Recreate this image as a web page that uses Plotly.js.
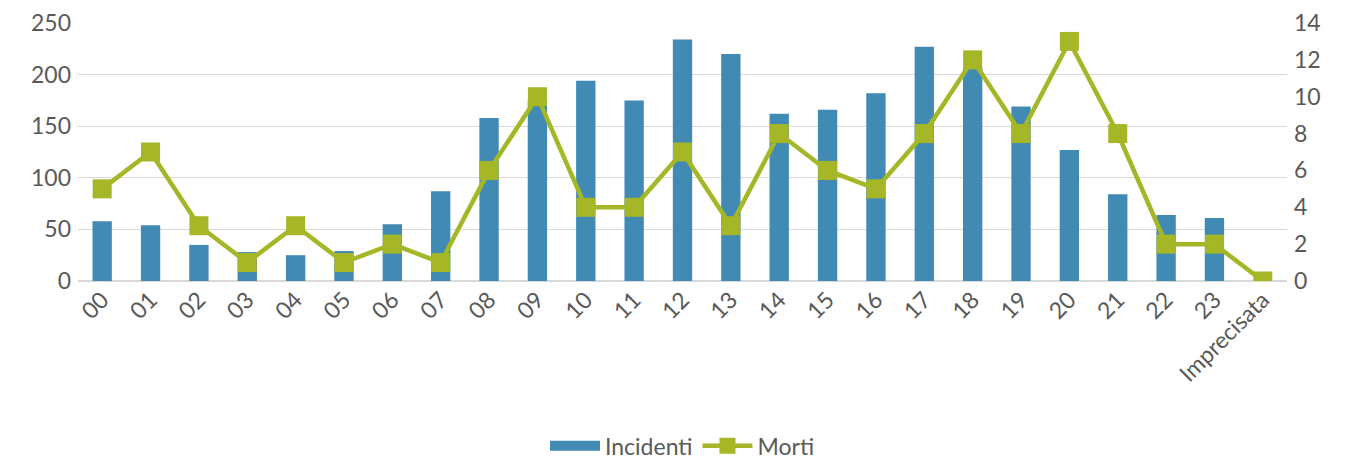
<!DOCTYPE html>
<html>
<head>
<meta charset="utf-8">
<script src="https://cdn.plot.ly/plotly-3.0.1.min.js"></script>
<style>html,body{margin:0;padding:0;background:#fff;}#chart{width:1346px;height:462px;}</style>
</head>
<body>
<div id="chart"></div>
<script>
const categories = ["00","01","02","03","04","05","06","07","08","09","10","11","12","13","14","15","16","17","18","19","20","21","22","23","Imprecisata"];
const incidenti = [58,54,35,28,25,29,55,87,158,175,194,175,234,220,162,166,182,227,207,169,127,84,64,61,0];
const morti = [5,7,3,1,3,1,2,1,6,10,4,4,7,3,8,6,5,8,12,8,13,8,2,2,0];

const textColor = '#595959';
const fontFamily = 'Lato, "Open Sans", sans-serif';
const barColor = '#418ab3';
const lineColor = '#a5b627';

const data = [
  {
    type: 'bar', name: 'Incidenti', x: categories, y: incidenti,
    marker: {color: barColor}, yaxis: 'y', showlegend: false, legendgroup: 'inc'
  },
  {
    // legend-only entry to mimic the wide bar swatch
    type: 'scatter', mode: 'lines', name: 'Incidenti', x: [null], y: [null],
    line: {color: barColor, width: 14}, legendgroup: 'inc', yaxis: 'y', hoverinfo: 'skip'
  },
  {
    type: 'scatter', mode: 'lines+markers', name: 'Morti', x: categories, y: morti,
    line: {color: lineColor, width: 4.5},
    marker: {symbol: 'square', size: 19, color: lineColor},
    yaxis: 'y2'
  }
];

const layout = {
  width: 1346, height: 462,
  margin: {l: 78, r: 59, t: 23, b: 181},
  paper_bgcolor: '#fff', plot_bgcolor: '#fff',
  font: {family: fontFamily, color: textColor, size: 23},
  bargap: 0.6,
  showlegend: true,
  legend: {
    orientation: 'h', x: 0.5, xanchor: 'center',
    yref: 'container', y: 0.035, yanchor: 'middle',
    font: {size: 23, color: textColor}, itemwidth: 50, tracegroupgap: 0
  },
  xaxis: {
    type: 'category', range: [-0.5, 24.5], tickangle: -45, showgrid: false, zeroline: false,
    showline: false, ticks: '', tickfont: {size: 23, color: textColor}
  },
  yaxis: {
    range: [0, 250], dtick: 50, showgrid: true, gridcolor: '#d9d9d9', gridwidth: 1.3,
    zeroline: true, zerolinecolor: '#d9d9d9', zerolinewidth: 1.3,
    showline: false, ticks: '', ticklabelstandoff: 6,
    tickfont: {size: 23, color: textColor}
  },
  yaxis2: {
    range: [0, 14], dtick: 2, overlaying: 'y', side: 'right', showgrid: false,
    zeroline: false, showline: false, ticks: '', ticklabelstandoff: 6,
    tickfont: {size: 23, color: textColor}
  }
};

Plotly.newPlot('chart', data, layout, {displayModeBar: false, staticPlot: true});
</script>
</body>
</html>
